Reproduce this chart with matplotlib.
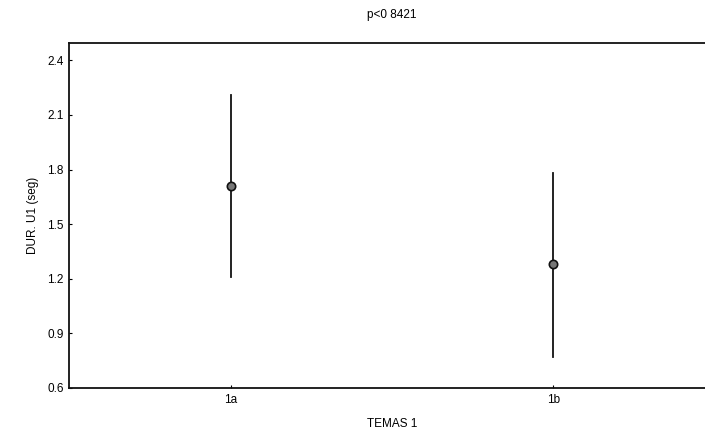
import matplotlib
matplotlib.use("Agg")
import matplotlib.pyplot as plt

plt.rcParams['font.family'] = ['Liberation Sans', 'DejaVu Sans']

groups = ["1a", "1b"]
means = [1.71, 1.28]
upper = [2.21, 1.78]
lower = [1.21, 0.77]
yticks = [0.6, 0.9, 1.2, 1.5, 1.8, 2.1, 2.4]

fig = plt.figure(figsize=(7.05, 4.34), dpi=100)
ax = fig.add_axes([0.098, 0.106, 0.916, 0.795])

x = list(range(len(groups)))
for i in x:
    ax.plot([i, i], [lower[i], upper[i]], color="#111111", lw=1.3)
ax.plot(x, means, "o", ms=6, mfc="#777777", mec="#111111", mew=1.2, ls="none")

ax.set_xlim(-0.5, 1.5)
ax.set_ylim(0.6, 2.495)
ax.set_xticks(x)
ax.set_xticklabels(groups, fontsize=8.5)
ax.set_yticks(yticks)
ax.set_yticklabels([f"{v:.1f}" for v in yticks], fontsize=8.5)
ax.tick_params(length=2, width=0.8, direction="in", pad=4)
for s in ax.spines.values():
    s.set_linewidth(1.3)
    s.set_color("#111111")
ax.spines["right"].set_visible(False)

ax.set_title("p<0 8421", fontsize=8.5, pad=18)
ax.set_xlabel("TEMAS 1", fontsize=8.5, labelpad=9)
ax.set_ylabel("DUR. U1 (seg)", fontsize=8.5, labelpad=6)

fig.savefig("out.png", dpi=100)
